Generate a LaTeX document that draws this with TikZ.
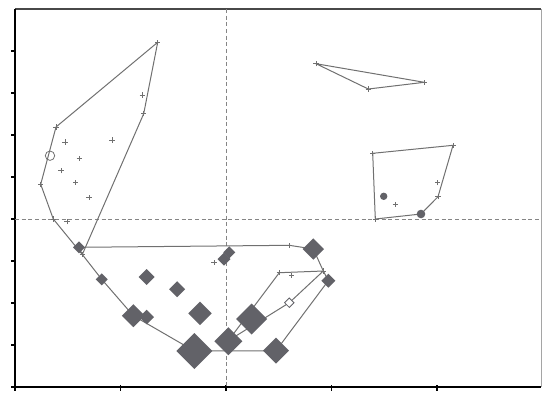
\documentclass[tikz,border=0pt]{standalone}
\usepackage{tikz}

\definecolor{markgray}{RGB}{98,98,104}
\definecolor{hullgray}{RGB}{112,112,112}
\tikzset{every picture/.style={line width=0.75pt}}
\tikzset{
  hull/.style={draw=hullgray, line width=0.75pt, line join=round},
  axisdash/.style={draw=hullgray!85, dash pattern={on 3pt off 2pt}, line width=0.5pt},
  plusmark/.pic={\draw [hullgray, line width=0.55pt] (-2.6,0) -- (2.6,0) (0,-2.6) -- (0,2.6);}
}

\begin{document}
\begin{tikzpicture}[x=0.75pt,y=0.75pt,yscale=-1,xscale=1]
	\useasboundingbox (0,0) rectangle (542,394);

	%Straight Lines [frame]
	\draw [color={rgb, 255:red, 72; green, 72; blue, 72 }, line width=1pt] (15,9) -- (541,9) ;
	\draw [color={rgb, 255:red, 165; green, 165; blue, 165 }] (541,9) -- (541,387) ;
	\draw [line width=1pt] (15,9) -- (15,387) -- (541,387) ;
	%Straight Lines [ticks]
	\foreach \ty in {51,93,...,345} \draw [line width=0.8pt] (11,\ty) -- (16,\ty) ;
	\foreach \tx in {120.5,226,331.5,437} \draw [line width=0.8pt] (\tx,385) -- (\tx,391) ;
	\draw [line width=0.8pt] (11,387) -- (15,387) -- (15,391) ;

	%Straight Lines [zero axes]
	\draw [axisdash] (226,9) -- (226,387) ;
	\draw [axisdash] (15,219) -- (541,219) ;

	%Shape: Polygon [upper left group]
	\draw [hull] (157.7,42.3) -- (143.7,113.7) -- (82.3,254.5) -- (53.3,219) -- (40.7,184.3) -- (56,127) -- cycle ;
	%Shape: Polygon [upper right group]
	\draw [hull] (316,63.7) -- (424.3,82.3) -- (368.3,89) -- cycle ;
	%Shape: Polygon [right group]
	\draw [hull] (372.7,153.3) -- (453,145.3) -- (438,196.7) -- (421,214) -- (375.3,219) -- cycle ;
	%Shape: Polygon [lower group]
	\draw [hull] (79,247.3) -- (289.3,245.3) -- (313.3,249) -- (323.3,271) -- (328.3,280.7) -- (276,350.7) -- (194.3,351) -- (133.3,315.7) -- (101.7,279.3) -- (82.3,254.5) -- cycle ;
	%Shape: Polygon [lower inner group]
	\draw [hull] (279.3,272.7) -- (323.3,271) -- (289.3,302.7) -- (228.3,340.7) -- cycle ;

	%Shape: Diamonds
	\foreach \cx/\cy/\h in {79/247.3/6, 101.7/279.3/6, 146.7/277/8, 177.2/289.2/8, 133.3/315.7/11.5, 146.7/317/7.3,
	    200/313.3/11.7, 194.3/351/18, 228.3/341.2/14, 224/259/6.5, 229.3/252.3/6, 251.7/319/15.5,
	    276/350.7/13, 313.3/249/10.7, 328.3/280.7/7}
	  \fill [markgray] (\cx,\cy) +(-\h,0) -- +(0,-\h) -- +(\h,0) -- +(0,\h) -- cycle ;
	\draw [markgray, fill=white, line width=0.6pt] (289.3,302.7) +(-4.7,0) -- +(0,-4.7) -- +(4.7,0) -- +(0,4.7) -- cycle ;

	%Shape: Circles
	\draw [hullgray, line width=0.6pt] (50,155.7) circle (4.7) ;
	\fill [markgray] (421,214) circle (4.3) ;
	\fill [markgray] (383.7,196.3) circle (3.7) ;

	%Shape: Crosses
	\foreach \p in {(157.7,42.3),(143.7,113.7),(82.3,254.5),(53.3,219),(40.7,184.3),(56,127),
	    (142.3,95),(65,142),(112,140),(79.3,158.3),(61,170.7),(75.7,182.3),(89,197.3),(67,221.7),
	    (316,63.7),(424.3,82.3),(368.3,89),
	    (372.7,153.3),(453,145.3),(438,196.7),(375.3,219),(395.3,204.3),(437.7,182.7),
	    (214,262.3),(289.3,245.3),(291.7,275.3),(279.3,272.7),(323.3,271)}
	  \pic at \p {plusmark} ;

\end{tikzpicture}
\end{document}
